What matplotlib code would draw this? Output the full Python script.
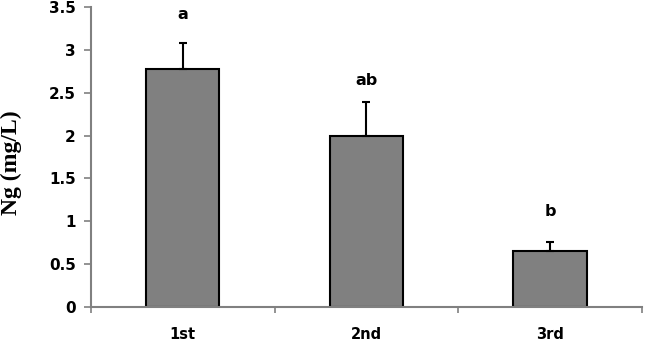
import numpy as np
from matplotlib import pyplot as plt

categories = ['1st', '2nd', '3rd']
means = [2.78, 2.00, 0.65]
errors = [0.30, 0.39, 0.11]
letters = ['a', 'ab', 'b']
letter_y = [3.41, 2.64, 1.12]

fig = plt.figure(figsize=(6.45, 3.42), dpi=100)
ax = fig.add_axes([0.141, 0.102, 0.854, 0.878])

x = np.arange(len(categories))
ax.bar(x, means, width=0.4, color='#808080', edgecolor='black', linewidth=1.5, zorder=2)
ax.errorbar(x, means, yerr=[np.zeros(len(means)), errors], fmt='none',
            ecolor='black', elinewidth=1.5, capsize=3, capthick=1.5, zorder=3)

for xi, ly, lab in zip(x, letter_y, letters):
    ax.text(xi, ly, lab, ha='center', va='center',
            fontsize=11.5, fontweight='bold', family='DejaVu Sans')

ax.set_xlim(-0.5, 2.5)
ax.set_ylim(0, 3.5)
ax.set_yticks(np.arange(0, 3.51, 0.5))
ax.set_yticklabels(['0', '0.5', '1', '1.5', '2', '2.5', '3', '3.5'])
ax.set_xticks(x)
ax.set_xticklabels(categories)
ax.set_xticks([-0.5, 0.5, 1.5, 2.5], minor=True)
ax.tick_params(axis='x', which='major', length=0, pad=14)
ax.tick_params(axis='x', which='minor', length=4, width=1.2, color='#808080', direction='out')
ax.tick_params(axis='y', length=5, width=1.2, color='#808080', direction='out', pad=6)
for lab in ax.get_xticklabels():
    lab.set_fontweight('bold')
    lab.set_fontsize(10.5)
for lab in ax.get_yticklabels():
    lab.set_fontweight('bold')
    lab.set_fontsize(11)

for s in ['top', 'right']:
    ax.spines[s].set_visible(False)
for s in ['left', 'bottom']:
    ax.spines[s].set_color('#808080')
    ax.spines[s].set_linewidth(1.5)

ax.set_ylabel('Ng (mg/L)', fontsize=17, fontweight='bold', family='Liberation Serif')
ax.yaxis.set_label_coords(-0.125, 0.48)

fig.savefig('out.png', dpi=100)
